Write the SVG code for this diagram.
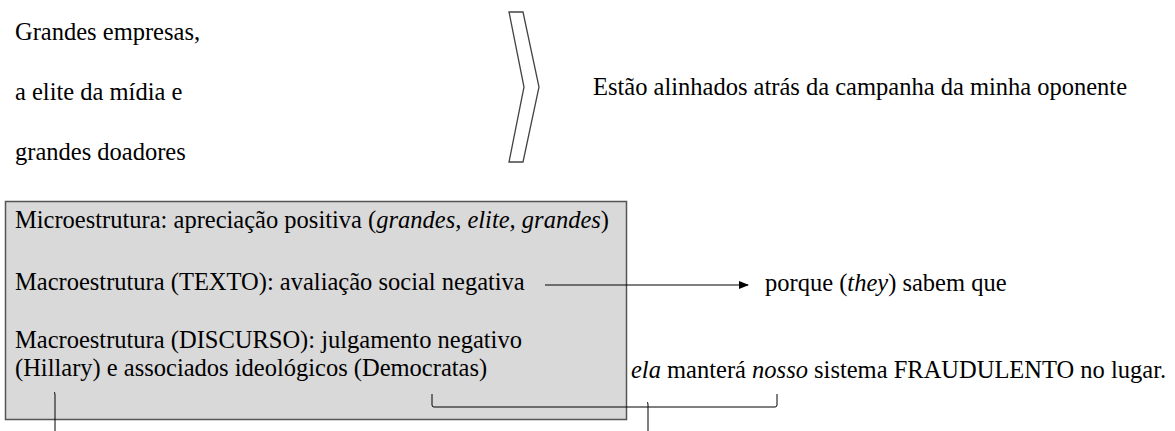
<svg xmlns="http://www.w3.org/2000/svg" width="1175" height="431" viewBox="0 0 1175 431">
<defs>
<style>
text{font-family:"Liberation Serif","Times New Roman",serif;font-size:24.5px;fill:#000}
.it{font-style:italic}
.ln{fill:none;stroke:#000;stroke-width:1}
</style>
<marker id="ah" markerWidth="10" markerHeight="10" refX="9" refY="5" orient="auto" markerUnits="userSpaceOnUse">
<path d="M0,1 L10,5 L0,9 Z" fill="#000"/>
</marker>
</defs>
<rect width="1175" height="431" fill="#fff"/>
<g id="source-list">
<text x="15" y="40">Grandes empresas,</text>
<text x="15" y="100">a elite da mídia e</text>
<text x="15" y="160">grandes doadores</text>
</g>
<g id="chevron">
<polygon points="509,12 523,12 539,87 523,162 509,162 524,87" fill="#fff" stroke="#444" stroke-width="1.3"/>
</g>
<g id="claim">
<text x="593" y="95">Estão alinhados atrás da campanha da minha oponente</text>
</g>
<g id="analysis-box">
<rect x="5.5" y="201.5" width="621" height="218" fill="#d9d9d9" stroke="#555" stroke-width="1.5"/>
<text x="15" y="228">Microestrutura: apreciação positiva (<tspan class="it">grandes, elite, grandes</tspan>)</text>
<text x="15" y="290">Macroestrutura (TEXTO): avaliação social negativa</text>
<text x="15" y="348">Macroestrutura (DISCURSO): julgamento negativo</text>
<text x="15" y="376">(Hillary) e associados ideológicos (Democratas)</text>
</g>
<g id="reason">
<text x="765" y="291">porque (<tspan class="it">they</tspan>) sabem que</text>
</g>
<g id="consequence">
<text x="631" y="378"><tspan class="it">ela</tspan> manterá <tspan class="it">nosso</tspan> sistema FRAUDULENTO no lugar.</text>
</g>
<g id="connectors">
<line class="ln" x1="545" y1="285" x2="748" y2="285" marker-end="url(#ah)"/>
<path class="ln" d="M432,394 V405 Q432,407 434,407 H775 Q777,407 777,405 V394"/>
<path class="ln" d="M647,402 Q648,402 648,405 V431"/>
<path class="ln" d="M54,392 Q55,392 55,395 V431"/>
</g>
</svg>
